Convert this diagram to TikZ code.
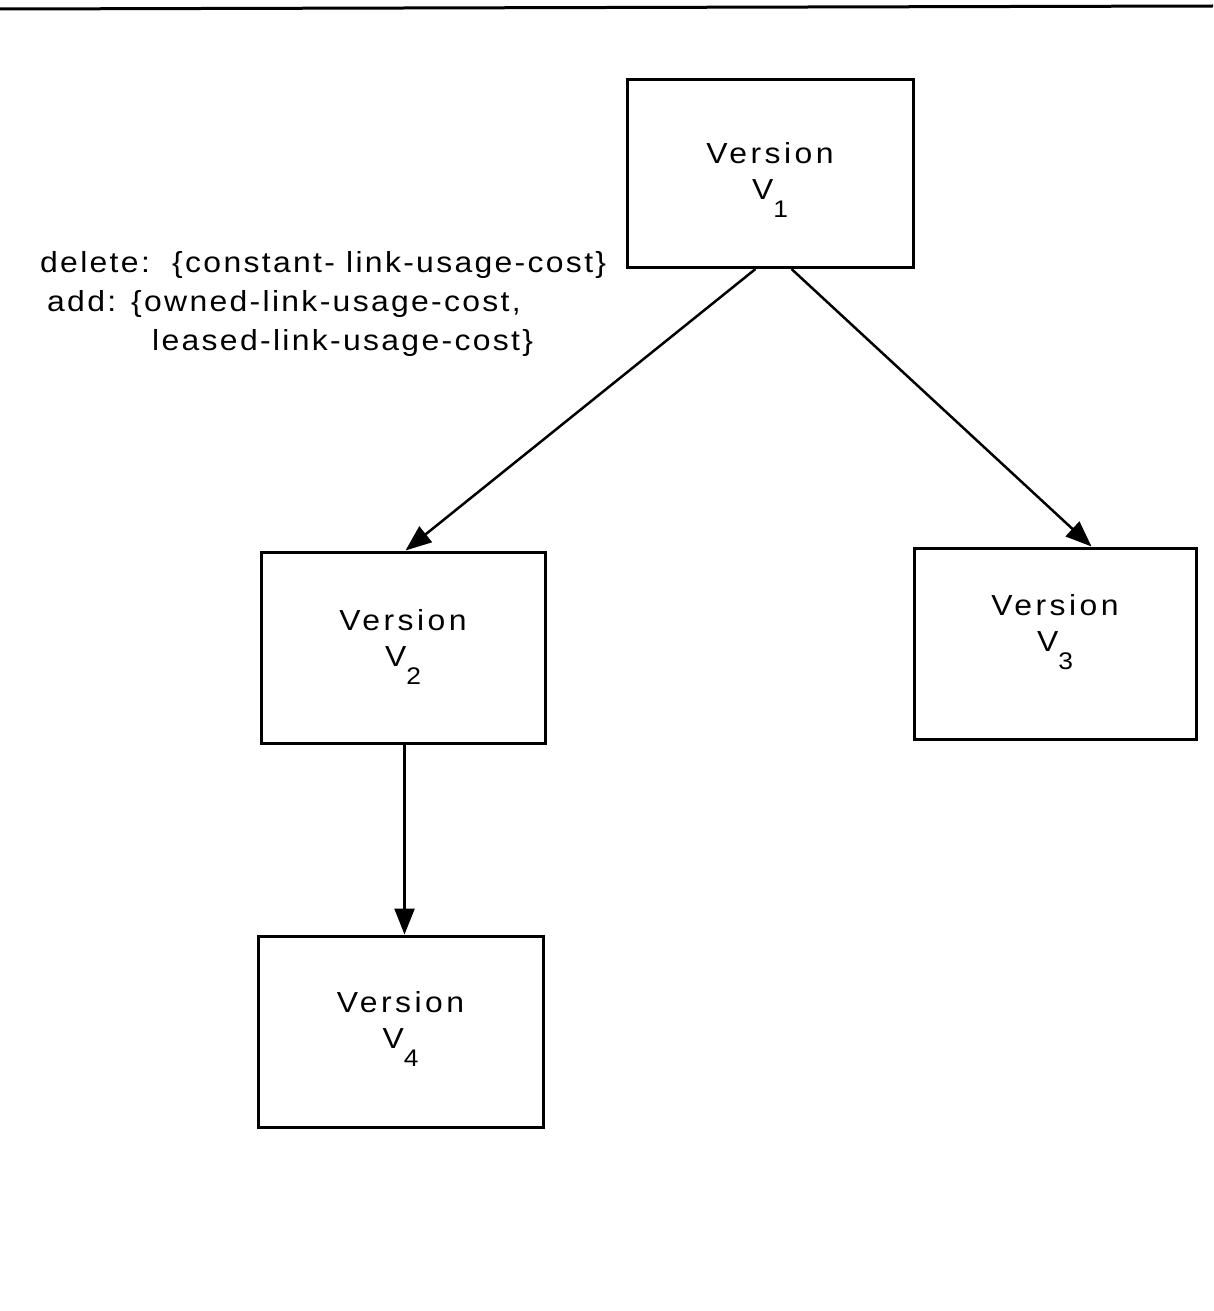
\documentclass[tikz,border=0pt]{standalone}
\usepackage{fontspec}
\setmainfont{Liberation Sans}
\newfontfamily\boxfont{Liberation Sans}[FakeStretch=1.1,LetterSpace=12]
\newfontfamily\notefont{Liberation Sans}[FakeStretch=1.1,LetterSpace=8]
\usetikzlibrary{arrows.meta}
% subscript of a version name, set low under the baseline
\newcommand\vsub[1]{\raisebox{-18pt}{\fontsize{24}{24}\selectfont #1}}
% two-line box label; the second argument is the depth kept below it
\newcommand\vlabel[2]{\rule{0pt}{33pt}Version\\V\vsub{#1}\rule[-#2]{0pt}{#2}}
\begin{document}
\begin{tikzpicture}[x=1pt,y=1pt,
  vbox/.style={draw, line width=3pt, rectangle, inner sep=0pt, align=center,
    font=\boxfont\fontsize{29}{36}\selectfont},
  note/.style={anchor=base west, inner sep=0pt, font=\notefont\fontsize{29}{36}\selectfont},
  link/.style={line width=2.5pt, -{Triangle[length=26pt,width=20pt]}}]
\useasboundingbox (0,0) rectangle (1213,-1311);
% rule across the top of the page
\draw[line width=3pt] (0,-9) -- (1213,-6);
% version boxes
\node[vbox, minimum width=286pt, minimum height=188pt] (v1) at (770,-173.5) {\vlabel{1}{18pt}};
\node[vbox, minimum width=284pt, minimum height=191pt] (v2) at (403,-647.5) {\vlabel{2}{32pt}};
\node[vbox, minimum width=282pt, minimum height=191pt] (v3) at (1055,-643.5) {\vlabel{3}{54pt}};
\node[vbox, minimum width=285pt, minimum height=191pt] (v4) at (400.5,-1031.5) {\vlabel{4}{36pt}};
% derivation links
\draw[link] ([xshift=130pt]v1.south west) -- ([xshift=146pt]v2.north west);
\draw[link] ([xshift=166pt]v1.south west) -- ([xshift=179pt]v3.north west);
\draw[link] ([xshift=145pt]v2.south west) -- ([xshift=148pt]v4.north west);
% change annotation on the V1 -> V2 link
\node[note] (del) at (40,-272) {delete:\ \ \{constant- link-usage-cost\}};
\node[note] (add) at (47,-311) {add: \{owned-link-usage-cost,};
\node[note] (lease) at (152,-350) {leased-link-usage-cost\}};
\end{tikzpicture}
\end{document}
